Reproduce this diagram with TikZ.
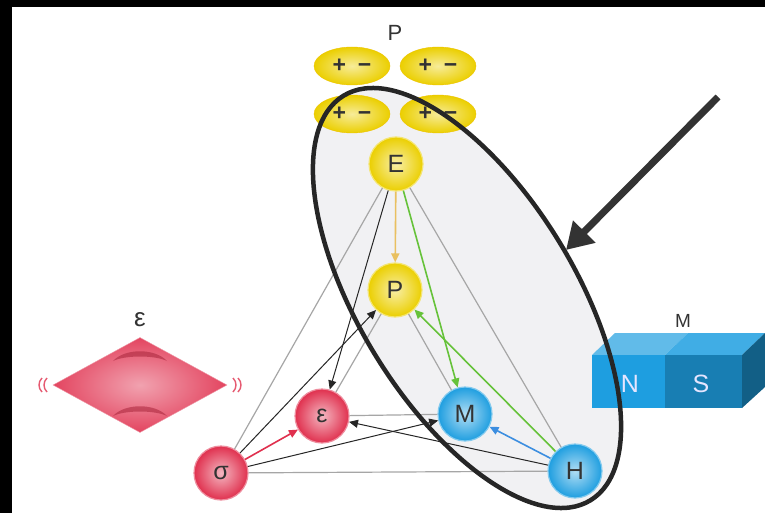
\documentclass[tikz,border=0pt]{standalone}
\usepackage{fontspec}
\setmainfont{Liberation Sans}
\usetikzlibrary{arrows.meta, positioning, calc, shapes.geometric}

\definecolor{ferroyellow}{HTML}{EBCF00}
\definecolor{elasticred}{HTML}{E0304E}
\definecolor{magblue}{HTML}{1E9EE0}
\definecolor{linkgreen}{HTML}{66C23A}
\definecolor{linkyellow}{HTML}{E9C060}
\definecolor{linkblue}{HTML}{3C8EE0}
\definecolor{shellgray}{HTML}{F1F1F3}

\begin{document}
\begin{tikzpicture}[x=1pt, y=-1pt,
    orb/.style={circle, minimum size=54pt, inner sep=0pt, font=\fontsize{25}{25}\selectfont,
        text=black!80, line width=1.2pt, draw=#1!55!white, inner color=#1!35!white, outer color=#1},
    dipole/.style={ellipse, minimum width=76pt, minimum height=38pt, inner sep=0pt,
        draw=ferroyellow!85!orange, inner color=ferroyellow!40!white, outer color=ferroyellow,
        font=\bfseries\fontsize{23}{23}\selectfont, text=black!80},
    rod/.style={gray!70, line width=1.2pt},
    link/.style={line width=1.6pt, -{Triangle[length=9pt, width=8pt]}},
    label/.style={font=\fontsize{#1}{#1}\selectfont, text=black!80}]
    \useasboundingbox (0,0) rectangle (765,513);
    \fill[black] (0,0) rectangle (765,513);
    \fill[white] (12,7) rectangle (765,513);

    % shaded region round the magnetoelectric part
    \fill[shellgray, rotate around={-58.6:(467,298)}] (467,298) ellipse [x radius=237, y radius=108];

    % polarisation on top
    \node[label=22] (plabel) at (395,33) {P};
    \node[dipole] (d1) at (352,66) {+\hspace{12pt}−};
    \node[dipole] (d2) at (438,66) {+\hspace{12pt}−};
    \node[dipole] (d3) at (352,114) {+\hspace{12pt}−};
    \node[dipole] (d4) at (438,114) {+\hspace{12pt}−};

    % strained cell on the left
    \node[label=26] (slabel) at (140,320) {ε};
    \node[diamond, minimum width=174pt, minimum height=95pt, inner sep=0pt, draw=elasticred!50,
        inner color=elasticred!45!white, outer color=elasticred!90] (strain) at (140,385) {};
    \foreach \y in {357,412} {
        \fill[elasticred!75!black, opacity=0.55] (113,\y+4) .. controls (125,\y-9) and (155,\y-9) .. (167,\y+4)
            .. controls (155,\y-2) and (125,\y-2) .. (113,\y+4);
    }
    \foreach \x in {47,42} {
        \draw[elasticred!80, line width=1.4pt] (\x,378) .. controls (\x-4,382) and (\x-4,388) .. (\x,392);
        \draw[elasticred!80, line width=1.4pt] (280-\x,378) .. controls (284-\x,382) and (284-\x,388) .. (280-\x,392);
    }

    % bar magnet on the right
    \fill[magblue!70!white] (592,355) -- (615,333) -- (688,333) -- (665,355) -- cycle;
    \fill[magblue!85!white] (665,355) -- (688,333) -- (765,333) -- (742,355) -- cycle;
    \fill[magblue] (592,355) rectangle (665,408);
    \fill[magblue!80!black] (665,355) rectangle (742,408);
    \fill[magblue!60!black] (742,355) -- (765,333) -- (765,387) -- (742,408) -- cycle;
    \node[label=25, text=blue!10] (north) at (630,384) {N};
    \node[label=25, text=blue!10] (south) at (701,384) {S};
    \node[label=19] (mlabel) at (683,321) {M};

    % fields and responses
    \node[orb=ferroyellow] (E) at (396,164) {E};
    \node[orb=ferroyellow] (P) at (395,290) {P};
    \node[orb=elasticred] (eps) at (322,416) {ε};
    \node[orb=elasticred] (sigma) at (221,473) {σ};
    \node[orb=magblue] (M) at (465,414) {M};
    \node[orb=magblue] (H) at (575,471) {H};

    \draw[rod] (E) -- (sigma);
    \draw[rod] (E) -- (H);
    \draw[rod] (P) -- (eps);
    \draw[rod] (P) -- (M);
    \draw[rod] (eps) -- (M);
    \draw[rod] (sigma) -- (H);

    \draw[link, linkyellow] (E) -- (P);
    \draw[link, elasticred] (sigma) -- (eps);
    \draw[link, linkblue] (H) -- (M);
    \draw[link, linkgreen] (E) -- (M);
    \draw[link, linkgreen] (H) -- (P);
    \draw[link, black!85, line width=1pt] (sigma) -- (P);
    \draw[link, black!85, line width=1pt] (E) -- (eps);
    \draw[link, black!85, line width=1pt] (sigma) -- (M);
    \draw[link, black!85, line width=1pt] (H) -- (eps);

    \draw[line width=4.5pt, black!85, rotate around={-58.6:(467,298)}] (467,298) ellipse [x radius=237, y radius=108];

    \coordinate (tail) at (718,97);
    \coordinate (tip) at (566,250);
    \draw[line width=7pt, black!80, -{Triangle[length=26pt, width=30pt]}] (tail) -- (tip);
\end{tikzpicture}
\end{document}
